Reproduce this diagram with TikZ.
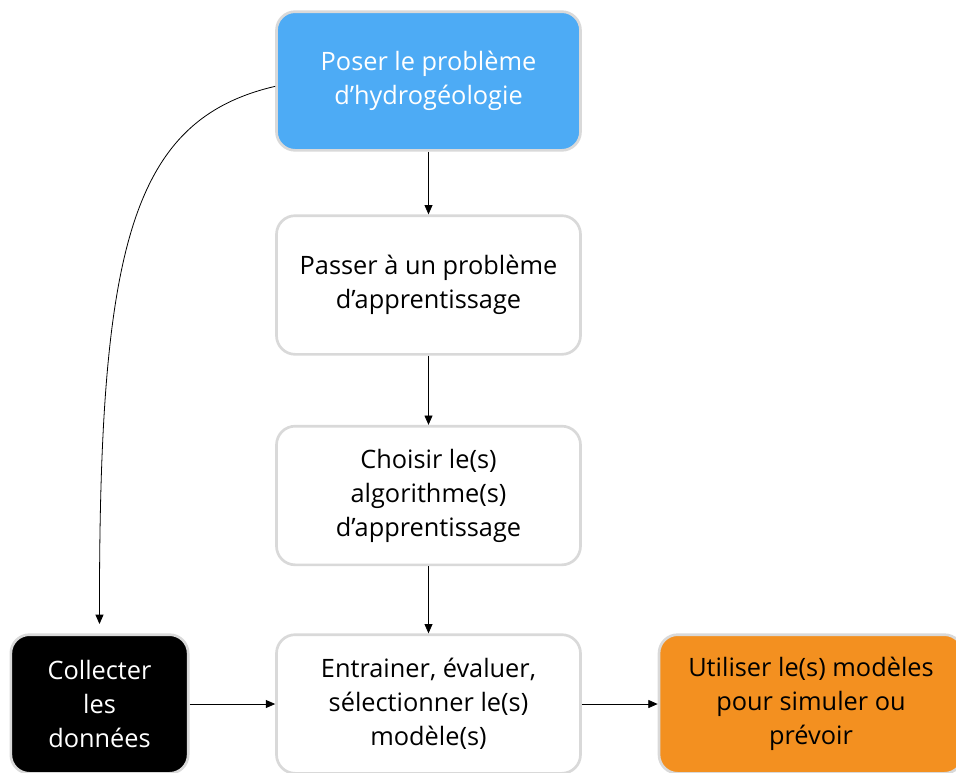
\documentclass[tikz,border=0pt]{standalone}
\usepackage{fontspec}
\setmainfont{Open Sans}
\usepackage{tikz}
\usetikzlibrary{arrows.meta, positioning}

\definecolor{posebleu}{RGB}{77,171,245}
\definecolor{utilorange}{RGB}{243,144,32}
\definecolor{bordgris}{RGB}{217,217,217}

\begin{document}
\begin{tikzpicture} [x=0.75pt, y=-0.75pt,
        etape/.style={draw=bordgris, line width=2pt, rounded corners=14pt,
            minimum width=228pt, minimum height=104pt, align=center,
            font=\fontsize{19}{25.5}\selectfont},
        fleche/.style={-{Triangle[length=7pt, width=6pt]}, line width=0.6pt}]
    \useasboundingbox (0,0) rectangle (956,772);

    % la colonne centrale
    \node[etape, fill=posebleu, text=white] (poser) at (428.5,81) {Poser le problème\\d’hydrogéologie};
    \node[etape, fill=white] (passer) at (428.5,285) {Passer à un problème\\d’apprentissage};
    \node[etape, fill=white] (choisir) at (428.5,495.5) {Choisir le(s)\\algorithme(s)\\d’apprentissage};
    \node[etape, fill=white] (entrainer) at (428.5,704) {Entrainer, évaluer,\\sélectionner le(s)\\modèle(s)};

    % les deux cotes
    \node[etape, fill=black, text=white, minimum width=133pt] (collecter) at (99.5,704) {Collecter\\les\\données};
    \node[etape, fill=utilorange, text=black] (utiliser) at (811,704) {Utiliser le(s) modèles\\pour simuler ou\\prévoir};

    \draw[fleche] (poser) -- (passer);
    \draw[fleche] (passer) -- (choisir);
    \draw[fleche] (choisir) -- (entrainer);
    \draw[fleche] (collecter) -- (entrainer);
    \draw[fleche] (entrainer) -- (utiliser);
    \draw[fleche, shorten >=7pt] ([yshift=-4pt]poser.west) .. controls (130,120) and (99,250) .. (collecter.north);
\end{tikzpicture}
\end{document}
